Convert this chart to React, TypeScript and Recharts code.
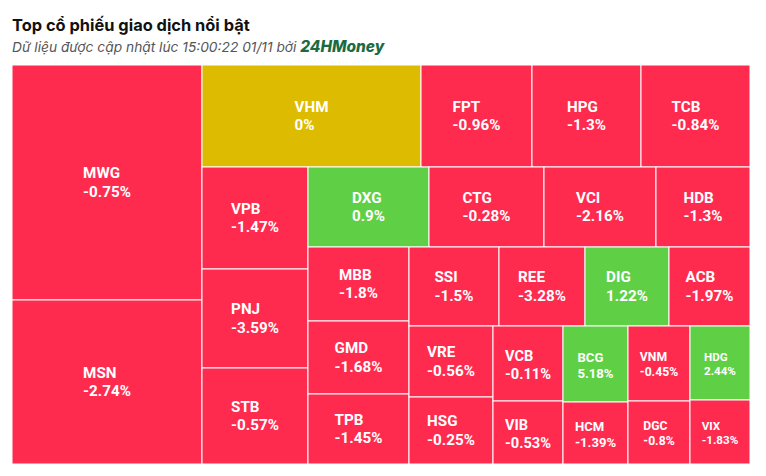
import React from "react";
import { Treemap } from "recharts";

// top traded tickers, read left-to-right / top-to-bottom off the map
const tickers = [
  "MWG", "MSN", "VHM", "FPT", "HPG", "TCB", "VPB", "PNJ", "STB", "DXG",
  "CTG", "VCI", "HDB", "MBB", "GMD", "TPB", "SSI", "REE", "DIG", "ACB",
  "VRE", "HSG", "VCB", "VIB", "BCG", "HCM", "VNM", "DGC", "HDG", "VIX",
];
// % change on the day
const changes = [
  -0.75, -2.74, 0, -0.96, -1.3, -0.84, -1.47, -3.59, -0.57, 0.9,
  -0.28, -2.16, -1.3, -1.8, -1.68, -1.45, -1.5, -3.28, 1.22, -1.97,
  -0.56, -0.25, -0.11, -0.53, 5.18, -1.39, -0.45, -0.8, 2.44, -1.83,
];
// trading value (estimated from tile areas)
const values = [
  446.5, 311.6, 223.4, 113.2, 111.2, 111.2, 108.1, 104.9, 101.8, 96.8,
  92.0, 89.6, 75.2, 74.7, 73.7, 70.7, 71.1, 67.9, 66.4, 64.0,
  59.6, 56.3, 52.5, 44.1, 48.8, 40.3, 46.5, 39.1, 45.0, 38.4,
];

// groups of tiles that share a strip in the layout
const blocks = [
  ["MWG", "MSN"],
  ["VHM", "FPT", "HPG", "TCB"],
  ["VPB", "PNJ", "STB"],
  ["DXG", "CTG", "VCI", "HDB"],
  ["MBB", "GMD", "TPB"],
  ["SSI", "REE", "DIG", "ACB"],
  ["VRE", "HSG"],
  ["VCB", "VIB"],
  ["BCG", "HCM"],
  ["VNM", "DGC"],
  ["HDG", "VIX"],
];

const UP = "#5fd045";
const DOWN = "#ff2b4f";
const FLAT = "#ddbb00";
const FONT = "Inter, 'Noto Sans', sans-serif";
const TILE_FONT = "Roboto, 'Noto Sans', sans-serif";

// zero-sized spacer: forces squarify to close the current strip
let gapId = 0;
const gap = () => ({ name: `_gap${gapId++}`, value: 0 });

const leaf = (t: string) => {
  const i = tickers.indexOf(t);
  return { name: t, value: values[i], change: changes[i] };
};

// first node takes a strip across the short side, the rest fills what is left
const cut = (nodes: any[]): any =>
  nodes.length === 1 ? nodes[0] : { children: [nodes[0], gap(), cut(nodes.slice(1))] };
// all nodes share one strip (split along the long side)
const band = (nodes: any[]) => ({ children: [gap(), ...nodes] });

const b = blocks.map((bl) => cut(bl.map(leaf)));
const tail = cut([b[7], b[8], band([b[9], b[10]])]);
const tree = cut([
  b[0],
  band([b[1], cut([b[2], band([b[3], cut([b[4], band([b[5], cut([b[6], tail])])])])])]),
]);

const ctx =
  typeof document !== "undefined" ? document.createElement("canvas").getContext("2d") : null;
function textWidth(s: string, fs: number) {
  if (!ctx) return s.length * fs * 0.58;
  ctx.font = `700 ${fs}px Roboto`;
  return ctx.measureText(s).width;
}

function Tile(props: any) {
  const { x, y, width, height, name, change, children } = props;
  if ((children && children.length) || !tickers.includes(name) || width <= 0) return <g />;
  const fill = change > 0 ? UP : change < 0 ? DOWN : FLAT;
  const fs = Math.min(15.2, 12.2 + (width - 62) * 0.3);
  const pct = `${change}%`;
  const w = Math.max(textWidth(name, fs), textWidth(pct, fs));
  const cx = x + width / 2;
  const cy = y + height / 2 + (fs < 15 ? 1 : -0.5);
  const lh = fs * 1.24;
  const left = cx - w / 2;
  return (
    <g>
      <rect x={x} y={y} width={width} height={height} fill={fill} stroke="#fff" strokeWidth={1} />
      <text x={left} y={cy - lh / 2 + fs * 0.36} fill="#fff" fontSize={fs} fontWeight={700} fontFamily={TILE_FONT}>
        {name}
      </text>
      <text x={left} y={cy + lh / 2 + fs * 0.36} fill="#fff" fontSize={fs} fontWeight={700} fontFamily={TILE_FONT}>
        {pct}
      </text>
    </g>
  );
}

export default function App() {
  return (
    <div
      style={{
        position: "absolute",
        left: 0,
        top: 0,
        width: 766,
        height: 476,
        background: "#fff",
        fontFamily: FONT,
      }}
    >
      <div
        style={{
          position: "absolute",
          left: 12,
          top: 15,
          fontSize: 16.4,
          fontWeight: 700,
          color: "#111",
          whiteSpace: "nowrap",
        }}
      >
        Top cổ phiếu giao dịch nổi bật
      </div>
      <div
        style={{
          position: "absolute",
          left: 12,
          top: 37,
          fontSize: 13.75,
          fontStyle: "italic",
          color: "#555",
          whiteSpace: "nowrap",
        }}
      >
        Dữ liệu được cập nhật lúc 15:00:22 01/11 bởi{" "}
        <span style={{ fontWeight: 800, fontSize: 15.4, color: "#1a6b42" }}>24HMoney</span>
      </div>
      <div style={{ position: "absolute", left: 12, top: 65 }}>
        <Treemap
          width={738}
          height={399}
          data={tree.children}
          dataKey="value"
          content={<Tile />}
          isAnimationActive={false}
        />
      </div>
    </div>
  );
}
